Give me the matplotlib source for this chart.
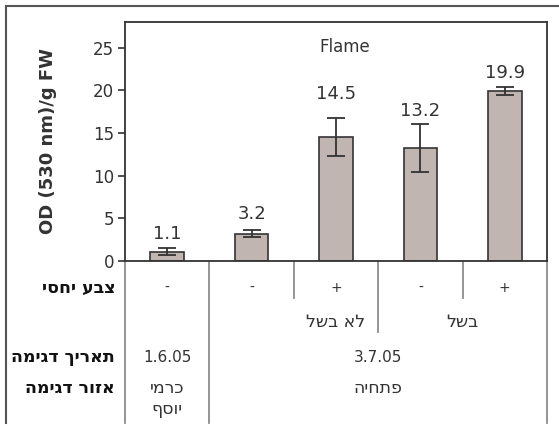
import matplotlib
matplotlib.use("Agg")
import matplotlib.pyplot as plt
from matplotlib.lines import Line2D
from matplotlib.transforms import blended_transform_factory

# chart data
values = [1.1, 3.2, 14.5, 13.2, 19.9]
errors = [0.4, 0.4, 2.2, 2.8, 0.45]
value_labels = ["1.1", "3.2", "14.5", "13.2", "19.9"]
color_row = ["-", "-", "+", "-", "+"]
ripeness = ["לא בשל", "בשל"]
dates = ["1.6.05", "3.7.05"]
places = [["כרמי", "יוסף"], ["פתחיה"]]
row_titles = ["צבע יחסי", "תאריך דגימה", "אזור דגימה"]
yticks = [0, 5, 10, 15, 20, 25]


def heb(s):
    # matplotlib lays text out left to right only, so flip Hebrew for display
    return s[::-1]


W, H = 559, 426
fig = plt.figure(figsize=(W / 100, H / 100), dpi=100)
plt.rcParams['font.family'] = ['DejaVu Sans']

ax = fig.add_axes([125 / W, 1 - 261 / H, 422 / W, 239 / H])

dark = '#333333'
grey = '#8c8c8c'
x = list(range(len(values)))
ax.bar(x, values, width=0.4, color='#c0b5b1', edgecolor=dark, linewidth=1.2, zorder=2)
ax.errorbar(x, values, yerr=errors, fmt='none', ecolor=dark, elinewidth=1.3,
            capsize=6.5, capthick=1.3, zorder=3)

label_pad = [4, 5, 11, 3, 4]
for xi, v, e, lab, p in zip(x, values, errors, value_labels, label_pad):
    ax.annotate(lab, (xi, v + e), xytext=(0, p), textcoords='offset points',
                ha='center', va='bottom', fontsize=13, color=dark)

ax.set_xlim(-0.5, 4.5)
ax.set_ylim(0, 28)
ax.set_yticks(yticks)
ax.set_xticks([])
ax.tick_params(axis='y', labelsize=12, colors=dark, length=5, width=1.2, pad=3)
for sp in ax.spines.values():
    sp.set_color(dark)
    sp.set_linewidth(1.3)
ax.set_ylabel("OD (530 nm)/g FW", fontsize=13, fontweight='bold', color=dark, labelpad=26)
ax.text(0.52, 0.895, "Flame", transform=ax.transAxes, ha='center', va='center',
        fontsize=12, color=dark)

# category table below the axis
tr = blended_transform_factory(ax.transData, fig.transFigure)


def fy(py):
    return 1 - py / H


def vline(xd, y0, y1):
    ax.add_line(Line2D([xd, xd], [fy(y0), fy(y1)], transform=tr, color=grey,
                       lw=1.3, clip_on=False))


vline(-0.5, 262, 423)
vline(0.5, 262, 423)
vline(1.5, 262, 298)
vline(2.5, 262, 332)
vline(3.5, 262, 298)
vline(4.5, 262, 423)

for xi, s in zip(x, color_row):
    ax.text(xi, fy(288), s, transform=tr, ha='center', va='center', fontsize=10, color=dark)
ax.text(2.0, fy(322), heb(ripeness[0]), transform=tr, ha='center', va='center',
        fontsize=12.5, color=dark)
ax.text(3.5, fy(322), heb(ripeness[1]), transform=tr, ha='center', va='center',
        fontsize=12.5, color=dark)
ax.text(0, fy(357), dates[0], transform=tr, ha='center', va='center', fontsize=11, color=dark)
ax.text(2.5, fy(357), dates[1], transform=tr, ha='center', va='center', fontsize=11, color=dark)
ax.text(0, fy(388), heb(places[0][0]), transform=tr, ha='center', va='center',
        fontsize=12.5, color=dark)
ax.text(0, fy(409), heb(places[0][1]), transform=tr, ha='center', va='center',
        fontsize=12.5, color=dark)
ax.text(2.5, fy(388), heb(places[1][0]), transform=tr, ha='center', va='center',
        fontsize=12.5, color=dark)

for t, py in zip(row_titles, [288, 357, 388]):
    fig.text(115 / W, fy(py), heb(t), ha='right', va='center', fontsize=12.5,
             fontweight='bold', color='#111111')

# outer frame (top and left edge only)
fig.add_artist(Line2D([6 / W, 1], [fy(6), fy(6)], transform=fig.transFigure,
                      color='#555555', lw=1.5))
fig.add_artist(Line2D([6 / W, 6 / W], [fy(6), fy(423)], transform=fig.transFigure,
                      color='#555555', lw=1.5))

fig.savefig("out.png", dpi=100, facecolor='white')
